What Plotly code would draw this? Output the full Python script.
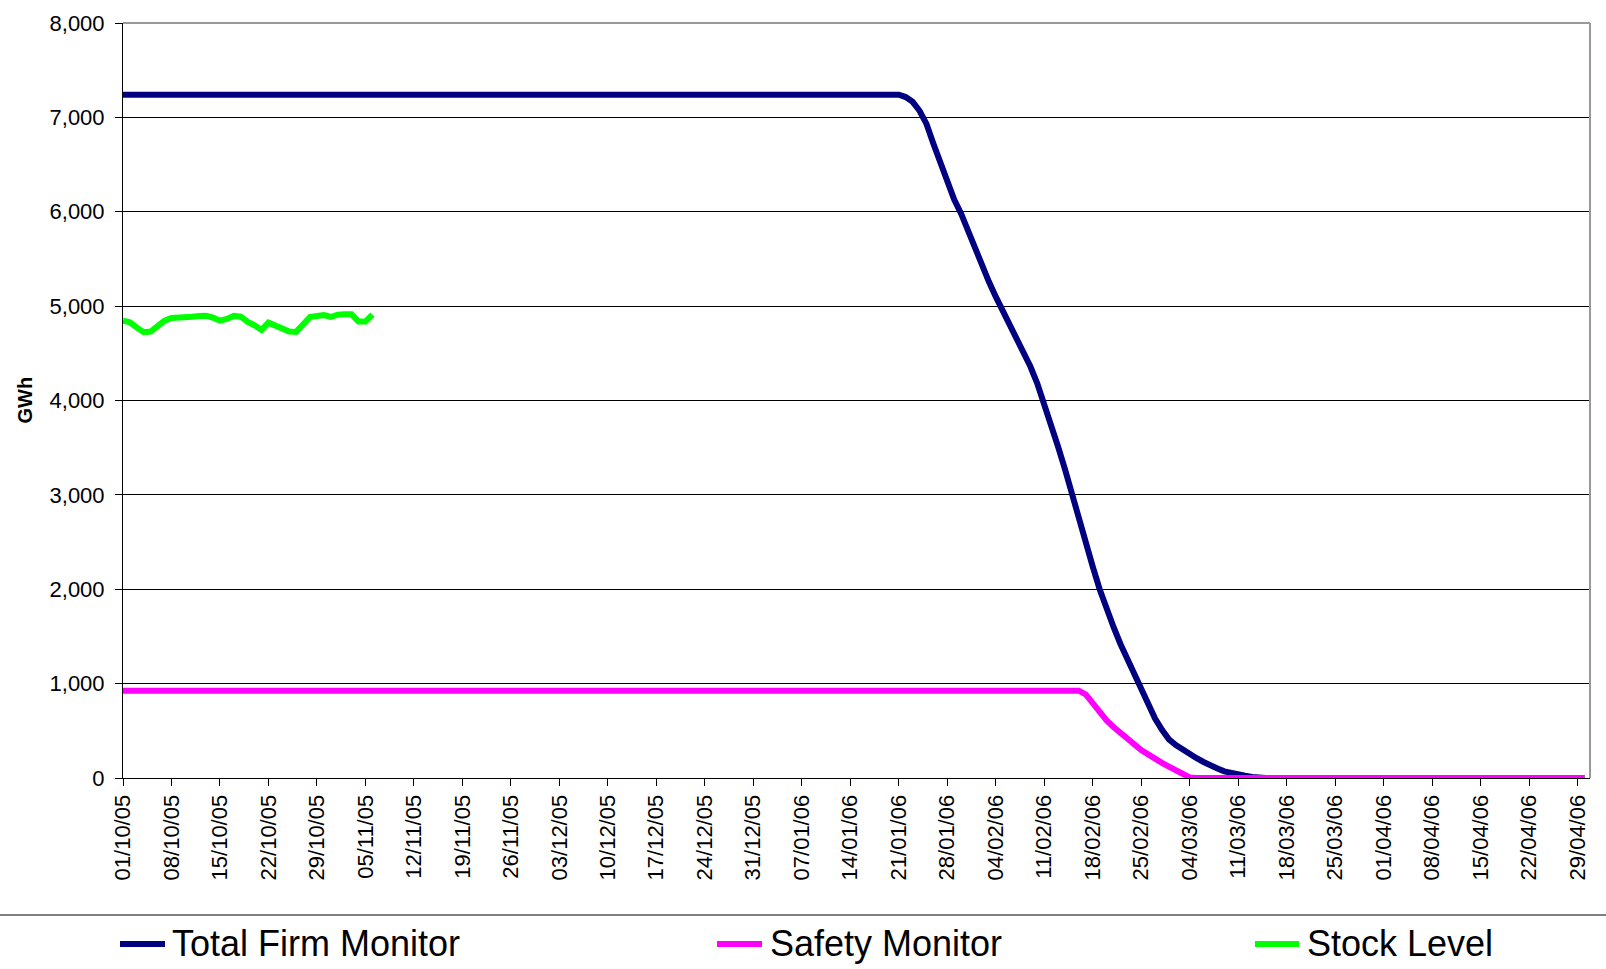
import pandas as pd
import plotly.graph_objects as go

# ---------------- data ----------------
period_start = "2005-10-01"
period_end = "2006-04-30"

# Total Firm Monitor (GWh): flat level, then daily values during the decline
firm_flat_value = 7240
firm_decline_start = "2006-01-21"
firm_decline_values = [7240, 7215, 7165, 7070, 6930, 6720, 6520, 6320, 6130, 5980, 5790,
                       5600, 5420, 5260, 5100, 4950, 4800, 4660, 4520, 4360, 4180, 3970,
                       3750, 3510, 3270, 3000, 2750, 2490, 2240, 2000, 1780, 1600, 1420,
                       1260, 1080, 930, 770, 630, 510,
                       410, 350, 300, 250, 210, 170, 130, 100, 70, 50, 38, 25, 12, 5, 0]
firm_end_value = 0

# Safety Monitor (GWh)
safety_flat_value = 925
safety_decline_start = "2006-02-16"
safety_decline_values = [925, 885, 790, 690, 610, 540, 480, 410, 345, 295, 250, 200,
                         160, 120, 80, 30, 5, 0]
safety_end_value = 0

# Stock Level (GWh), daily from 01/10/05
stock_start = "2005-10-01"
stock_values = [4846, 4829, 4772, 4723, 4730, 4790, 4846, 4875, 4875, 4875, 4888, 4896,
                4899, 4878, 4846, 4864, 4896, 4888, 4832, 4797, 4748, 4825, 4797, 4765,
                4730, 4727, 4807, 4885, 4896, 4906, 4885, 4910, 4913, 4913, 4836, 4836, 4910]

series_names = ["Total Firm Monitor", "Safety Monitor", "Stock Level"]
series_colors = ["#000080", "#FF00FF", "#00FF00"]

y_ticks = [0, 1000, 2000, 3000, 4000, 5000, 6000, 7000, 8000]

# ---------------- build x ----------------
def daily(start, n):
    return list(pd.date_range(start, periods=n, freq="D"))

firm_x = [pd.Timestamp(period_start)] + daily(firm_decline_start, len(firm_decline_values)) + [pd.Timestamp(period_end)]
firm_y = [firm_flat_value] + firm_decline_values + [firm_end_value]

safety_x = [pd.Timestamp(period_start)] + daily(safety_decline_start, len(safety_decline_values)) + [pd.Timestamp(period_end)]
safety_y = [safety_flat_value] + safety_decline_values + [safety_end_value]

stock_x = daily(stock_start, len(stock_values))

tick_dates = list(pd.date_range(period_start, period_end, freq="7D"))
tick_text = [d.strftime("%d/%m/%y") for d in tick_dates]

FONT = "Arial, Liberation Sans, sans-serif"

fig = go.Figure()
for xs, ys, name, col in [(firm_x, firm_y, series_names[0], series_colors[0]),
                          (safety_x, safety_y, series_names[1], series_colors[1]),
                          (stock_x, stock_values, series_names[2], series_colors[2])]:
    fig.add_trace(go.Scatter(x=xs, y=ys, name=name, mode="lines",
                             line=dict(color=col, width=6), showlegend=False))

FIG_W, FIG_H = 1606, 969
L, R, T, B = 123, 1590, 23, 778
W, H = R - L, B - T
def px(x):
    return (x - L) / W
def py(y):
    return (B - y) / H

shapes = []
# plot border top/right (grey)
shapes.append(dict(type="line", xref="paper", yref="paper", x0=0, x1=1, y0=1, y1=1,
                   line=dict(color="#999999", width=2), layer="above"))
shapes.append(dict(type="line", xref="paper", yref="paper", x0=1, x1=1, y0=0, y1=1,
                   line=dict(color="#999999", width=2), layer="above"))
# legend separator
shapes.append(dict(type="line", xref="paper", yref="paper", x0=px(0), x1=px(1606),
                   y0=py(915), y1=py(915), line=dict(color="black", width=1)))

annotations = []
legend_pos = [(120, 165, 170), (717, 762, 768), (1255, 1299, 1305)]
for (s0, s1, tx), name, col in zip(legend_pos, series_names, series_colors):
    shapes.append(dict(type="line", xref="paper", yref="paper", x0=px(s0), x1=px(s1),
                       y0=py(944), y1=py(944), line=dict(color=col, width=6)))
    annotations.append(dict(xref="paper", yref="paper", x=px(tx), y=py(943),
                            xanchor="left", yanchor="middle", showarrow=False,
                            text=name, font=dict(family=FONT, size=36, color="black")))

annotations.append(dict(xref="paper", yref="paper", x=px(24), y=0.5, xanchor="center",
                        yanchor="middle", showarrow=False, textangle=-90, text="<b>GWh</b>",
                        font=dict(family=FONT, size=20, color="black")))

fig.update_layout(
    width=FIG_W, height=FIG_H,
    margin=dict(l=L, r=FIG_W - R, t=T, b=FIG_H - B),
    paper_bgcolor="white", plot_bgcolor="white",
    font=dict(family=FONT, color="black"),
    shapes=shapes, annotations=annotations,
    xaxis=dict(
        type="date",
        range=[pd.Timestamp(period_start), pd.Timestamp(period_end) + pd.Timedelta(hours=19)],
        tickmode="array", tickvals=tick_dates, ticktext=tick_text,
        tickangle=-90, tickfont=dict(family=FONT, size=22, color="black"),
        ticks="outside", ticklen=7, tickcolor="black", tickwidth=1,
        showline=True, linecolor="black", linewidth=1,
        showgrid=False, zeroline=False, automargin=False,
    ),
    yaxis=dict(
        range=[0, 8000], tickmode="array", tickvals=y_ticks,
        tickformat=",d", tickfont=dict(family=FONT, size=22, color="black"),
        ticks="outside", ticklen=7, tickcolor="black", tickwidth=1,
        ticklabelstandoff=6,
        showline=True, linecolor="black", linewidth=1,
        showgrid=True, gridcolor="black", gridwidth=1,
        zeroline=False, automargin=False,
    ),
)

fig.write_html(
    "out.html",
    config={"displayModeBar": False},
    post_script="document.body.style.margin='0px';document.body.style.overflow='hidden';",
)
